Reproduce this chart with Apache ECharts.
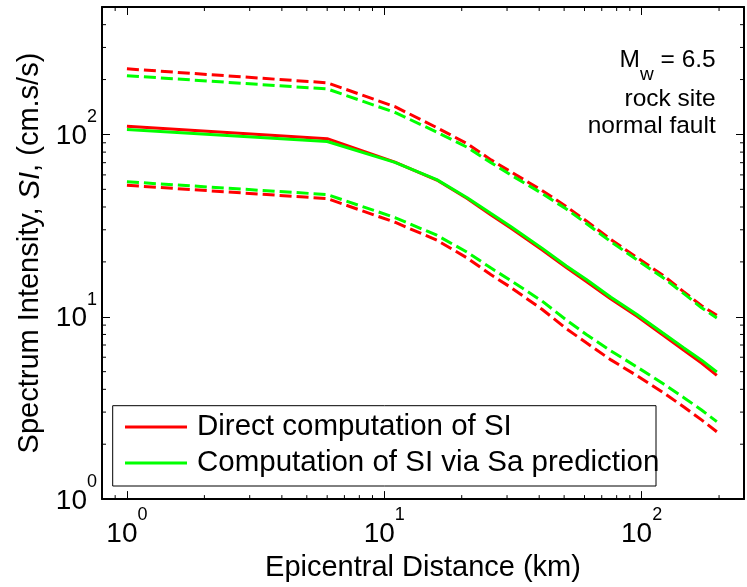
<!DOCTYPE html>
<html><head><meta charset="utf-8">
<script src="https://cdn.jsdelivr.net/npm/echarts@6/dist/echarts.min.js"></script>
<style>html,body{margin:0;padding:0;background:#fff}#c{width:747px;height:587px}</style>
</head><body><div id="c"></div>
<script>
const distance = [1, 6, 11, 16, 21, 26, 31, 41, 51, 61, 76, 96, 121, 146, 171, 196];
const directMedian = [111, 94.8, 70.5, 56.2, 44.5, 36.2, 30.7, 23.3, 18.6, 15.6, 12.5, 10.06, 7.94, 6.55, 5.57, 4.77];
const directUpper  = [229, 192, 142, 109, 89, 72.5, 62.5, 49.3, 40.2, 33.5, 26.5, 21.1, 16.9, 13.7, 11.5, 10.2];
const directLower  = [52.6, 44.5, 33, 26.3, 21, 17, 14.5, 11.0, 8.6, 7.2, 5.8, 4.75, 3.85, 3.2, 2.72, 2.34];
const saMedian = [106.5, 91.5, 70.3, 56.5, 45, 36.8, 31.3, 23.8, 19.0, 16.0, 12.8, 10.3, 8.15, 6.75, 5.78, 4.98];
const saUpper  = [210, 177.7, 132, 103, 85, 70, 60, 47.5, 39, 32.5, 25.8, 20.5, 16.4, 13.4, 11.2, 9.85];
const saLower  = [55, 46.8, 35, 28, 22.6, 18.5, 15.8, 12.2, 9.6, 8.0, 6.5, 5.3, 4.3, 3.6, 3.08, 2.66];
const xMinorTicks = [0.9, 2, 3, 4, 5, 6, 7, 8, 9, 20, 30, 40, 50, 60, 70, 80, 90, 200];
const yMinorTicks = [2, 3, 4, 5, 6, 7, 8, 9, 20, 30, 40, 50, 60, 70, 80, 90, 200, 300, 400];
const legendNames = ['Direct computation of SI', 'Computation of SI via Sa prediction'];
const annotation = ['rock site', 'normal fault'];

const FONT = 'Liberation Sans, Arial, Helvetica, sans-serif';
const RED = '#ff0000', GREEN = '#00ff00';

function pow10Label(v) {
  const e = Math.round(Math.log10(v));
  if (Math.abs(v - Math.pow(10, e)) > 1e-6 * v) return '';
  return '{b|10}{s|' + e + '}';
}
const labelRich = {
  b: { fontSize: 28, fontFamily: FONT, color: '#000', lineHeight: 42, verticalAlign: 'bottom' },
  s: { fontSize: 18, fontFamily: FONT, color: '#000', verticalAlign: 'top' }
};

function pairs(ys) { return distance.map((d, i) => [d, ys[i]]); }

function lineSeries(name, ys, color, dashed) {
  return {
    name: name, type: 'line', data: pairs(ys), symbol: 'none', showSymbol: false,
    xAxisIndex: 0, yAxisIndex: 0, silent: true, animation: false,
    lineStyle: { color: color, width: 3, type: dashed ? [12, 5] : 'solid' },
    itemStyle: { color: color }
  };
}

const chart = echarts.init(document.getElementById('c'), null, { renderer: 'canvas' });
const axisCommon = {
  type: 'log', logBase: 10,
  axisLine: { onZero: false, lineStyle: { color: '#000', width: 2 } },
  axisTick: { inside: true, length: 8, lineStyle: { color: '#000', width: 1 } },
  splitLine: { show: false }, minorTick: { show: false }, minorSplitLine: { show: false }
};

chart.setOption({
  animation: false,
  backgroundColor: '#fff',
  grid: { left: 102, top: 7, width: 647, height: 495, containLabel: false },
  xAxis: [
    Object.assign({}, axisCommon, {
      min: 0.8, max: 250, position: 'bottom',
      axisLabel: { formatter: pow10Label, rich: labelRich, margin: 7, color: '#000' },
      name: 'Epicentral Distance (km)', nameLocation: 'middle', nameGap: 46,
      nameTextStyle: { fontSize: 29, fontFamily: FONT, color: '#000' }
    }),
    Object.assign({}, axisCommon, {
      min: 0.8, max: 250, position: 'top', axisLabel: { show: false }
    })
  ],
  yAxis: [
    Object.assign({}, axisCommon, {
      min: 1, max: 500, position: 'left',
      axisLabel: { formatter: pow10Label, rich: labelRich, margin: 5, color: '#000', padding: [0, 0, 10, 0] },
      name: 'Spectrum Intensity, {i|SI}, (cm.s/s)', nameLocation: 'middle', nameGap: 57, nameRotate: 90,
      nameTextStyle: { fontSize: 29, fontFamily: FONT, color: '#000',
        rich: { i: { fontSize: 29, fontFamily: FONT, fontStyle: 'italic', color: '#000' } } }
    }),
    Object.assign({}, axisCommon, {
      min: 1, max: 500, position: 'right', axisLabel: { show: false }
    })
  ],
  legend: {
    data: legendNames, orient: 'vertical', left: 125, top: 409, padding: 0,
    icon: 'rect', itemWidth: 62, itemHeight: 3, itemGap: 0, selectedMode: false,
    textStyle: { fontSize: 29.5, fontFamily: FONT, color: '#000', lineHeight: 36, padding: [0, 0, 0, 5] },
    z: 5
  },
  graphic: [
    { type: 'rect', z: 3, shape: { x: 112.7, y: 405.7, width: 543.3, height: 80.3 },
      style: { fill: '#fff', stroke: '#000', lineWidth: 1 } },
    { type: 'text', z: 5, x: 715.7, y: 47.7,
      style: { text: '{a|M}{w|w}{a| = 6.5}', align: 'right', verticalAlign: 'top',
        rich: { a: { fontSize: 24.5, fontFamily: FONT, fill: '#000', lineHeight: 28, verticalAlign: 'top' },
                w: { fontSize: 19, fontFamily: FONT, fill: '#000', verticalAlign: 'bottom', padding: [18, 0, 0, 0] } } } },
    { type: 'text', z: 5, x: 715.7, y: 99,
      style: { text: annotation[0], align: 'right', verticalAlign: 'middle', fontSize: 24.5, fontFamily: FONT, fill: '#000' } },
    { type: 'text', z: 5, x: 715.7, y: 126.7,
      style: { text: annotation[1], align: 'right', verticalAlign: 'middle', fontSize: 24.5, fontFamily: FONT, fill: '#000' } }
  ],
  series: [
    lineSeries('upperDirect', directUpper, RED, true),
    lineSeries('upperSa', saUpper, GREEN, true),
    lineSeries(legendNames[0], directMedian, RED, false),
    lineSeries(legendNames[1], saMedian, GREEN, false),
    lineSeries('lowerDirect', directLower, RED, true),
    lineSeries('lowerSa', saLower, GREEN, true),
    {
      type: 'custom', name: 'xminor', silent: true, xAxisIndex: 0, yAxisIndex: 0,
      data: xMinorTicks.map(v => [v, 10]),
      renderItem: function (params, api) {
        const cs = params.coordSys;
        const x = api.coord([api.value(0), 10])[0];
        const b = cs.y + cs.height, t = cs.y;
        return { type: 'group', children: [
          { type: 'line', shape: { x1: x, y1: b, x2: x, y2: b - 4 }, style: { stroke: '#000', lineWidth: 1 } },
          { type: 'line', shape: { x1: x, y1: t, x2: x, y2: t + 4 }, style: { stroke: '#000', lineWidth: 1 } }
        ] };
      }
    },
    {
      type: 'custom', name: 'yminor', silent: true, xAxisIndex: 0, yAxisIndex: 0,
      data: yMinorTicks.map(v => [1, v]),
      renderItem: function (params, api) {
        const cs = params.coordSys;
        const y = api.coord([1, api.value(1)])[1];
        const l = cs.x, r = cs.x + cs.width;
        return { type: 'group', children: [
          { type: 'line', shape: { x1: l, y1: y, x2: l + 4, y2: y }, style: { stroke: '#000', lineWidth: 1 } },
          { type: 'line', shape: { x1: r, y1: y, x2: r - 4, y2: y }, style: { stroke: '#000', lineWidth: 1 } }
        ] };
      }
    }
  ]
});
</script></body></html>
